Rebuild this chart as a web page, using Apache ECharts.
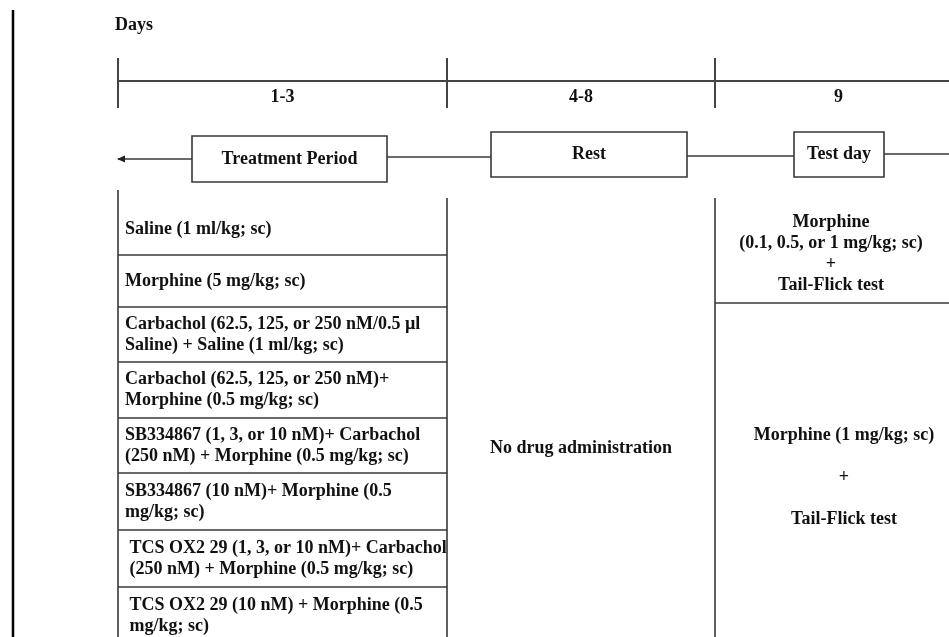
<!DOCTYPE html>
<html><head><meta charset="utf-8">
<script src="https://cdn.jsdelivr.net/npm/echarts@6/dist/echarts.min.js"></script>
<style>html,body{margin:0;padding:0;background:#fff}#main{width:949px;height:637px}</style>
</head><body><div id="main"></div>
<script>
// ---- content ----
const axisTitle = 'Days';
const dayLabels = ['1-3', '4-8', '9'];
const phaseLabels = ['Treatment Period', 'Rest', 'Test day'];
const treatmentGroups = [
  'Saline (1 ml/kg; sc)',
  'Morphine (5 mg/kg; sc)',
  'Carbachol (62.5, 125, or 250 nM/0.5 µl\nSaline) + Saline (1 ml/kg; sc)',
  'Carbachol (62.5, 125, or 250 nM)+\nMorphine (0.5 mg/kg; sc)',
  'SB334867 (1, 3, or 10 nM)+ Carbachol\n(250 nM) + Morphine (0.5 mg/kg; sc)',
  'SB334867 (10 nM)+ Morphine (0.5\nmg/kg; sc)',
  ' TCS OX2 29 (1, 3, or 10 nM)+ Carbachol\n (250 nM) + Morphine (0.5 mg/kg; sc)',
  ' TCS OX2 29 (10 nM) + Morphine (0.5\n mg/kg; sc)'
];
const restLabel = 'No drug administration';
const testDayLabels = [
  'Morphine\n(0.1, 0.5, or 1 mg/kg; sc)\n+\nTail-Flick test',
  'Morphine (1 mg/kg; sc)\n\n+\n\nTail-Flick test'
];

// ---- layout (axis units) ----
const L = {
  frameX: 13, frameTop: 10,
  colEdges: [118, 447, 715, 949],
  timelineY: 81, tickUp: 23, tickDown: 27, dayLabelY: 97,
  titleX: 115, titleY: 25,
  phaseBoxes: [[192, 136, 387, 182], [491, 132, 687, 177], [794, 132, 884, 177]],
  phaseLineY: [159, 157, 156, 154],
  tableTop: 198,
  rowEdges: [190, 255, 307, 362, 418, 473, 530, 587, 644],
  textPadX: 7,
  testSplitY: 303,
  bottom: 637,
  restTextY: 448, testTextY: [254, 477], testTextX: [831, 844]
};
const FONT = 'Liberation Serif';
const FS = 18;
const INK = '#111';
const LINE = '#383838';

function seg(api, a, b, w, c) {
  const p = api.coord(a), q = api.coord(b);
  return { type: 'line', shape: { x1: p[0], y1: p[1], x2: q[0], y2: q[1] },
    style: { stroke: c || LINE, lineWidth: w || 1.6 } };
}
function txt(api, s, at, align) {
  const p = api.coord(at);
  return { type: 'text', style: { text: s, x: p[0], y: p[1], fill: INK,
    fontFamily: FONT, fontWeight: 'bold', fontSize: FS, lineHeight: 21,
    align: align || 'center', verticalAlign: 'middle' } };
}

const chart = echarts.init(document.getElementById('main'));
chart.setOption({
  animation: false,
  grid: { left: 0, right: 0, top: 0, bottom: 0 },
  xAxis: { type: 'value', min: 0, max: 949, show: false },
  yAxis: { type: 'value', min: 0, max: 637, inverse: true, show: false },
  series: [
    { // timeline
      type: 'custom', coordinateSystem: 'cartesian2d', silent: true, clip: false,
      data: dayLabels.map((d, i) => [i]),
      renderItem(params, api) {
        const i = api.value(0), e = L.colEdges, y = L.timelineY;
        const ch = [
          seg(api, [e[i], y], [e[i + 1], y], 2, '#444'),
          seg(api, [e[i], y - L.tickUp], [e[i], y + L.tickDown], 2, '#444'),
          txt(api, dayLabels[i], [(e[i] + (i === 2 ? 962 : e[i + 1])) / 2, L.dayLabelY])
        ];
        if (i === 0) {
          ch.push(seg(api, [L.frameX, L.frameTop], [L.frameX, L.bottom], 2.5, '#000'));
          ch.push(txt(api, axisTitle, [L.titleX, L.titleY], 'left'));
        }
        return { type: 'group', children: ch };
      }
    },
    { // phases
      type: 'custom', coordinateSystem: 'cartesian2d', silent: true,
      data: phaseLabels.map((d, i) => [i]),
      renderItem(params, api) {
        const i = api.value(0), b = L.phaseBoxes[i];
        const prevX = i === 0 ? L.colEdges[0] : L.phaseBoxes[i - 1][2];
        const ch = [seg(api, [prevX, L.phaseLineY[i]], [b[0], L.phaseLineY[i]], 1.3)];
        if (i === 0) {
          const t = api.coord([prevX - 1, L.phaseLineY[0]]);
          ch.push({ type: 'polygon', shape: { points: [[t[0], t[1]], [t[0] + 8, t[1] - 3.5], [t[0] + 8, t[1] + 3.5]] },
            style: { fill: '#222' } });
        }
        if (i === phaseLabels.length - 1) {
          ch.push(seg(api, [b[2], L.phaseLineY[i + 1]], [L.colEdges[3], L.phaseLineY[i + 1]], 1.3));
        }
        const p = api.coord([b[0], b[1]]), q = api.coord([b[2], b[3]]);
        ch.push({ type: 'rect', shape: { x: p[0], y: p[1], width: q[0] - p[0], height: q[1] - p[1] },
          style: { fill: '#fff', stroke: LINE, lineWidth: 1.6 } });
        ch.push(txt(api, phaseLabels[i], [(b[0] + b[2]) / 2, (b[1] + b[3]) / 2]));
        return { type: 'group', children: ch };
      }
    },
    { // treatment groups (days 1-3)
      type: 'custom', coordinateSystem: 'cartesian2d', silent: true,
      data: treatmentGroups.map((d, i) => [i]),
      renderItem(params, api) {
        const i = api.value(0), r = L.rowEdges, e = L.colEdges;
        const top = r[i], bot = r[i + 1];
        const ch = [
          seg(api, [e[0], top], [e[0], bot]),
          seg(api, [e[1], Math.max(top, L.tableTop)], [e[1], bot])
        ];
        if (i < treatmentGroups.length - 1) ch.push(seg(api, [e[0], bot], [e[1], bot]));
        const cy = i === 0 ? (L.tableTop + bot) / 2 + 3 : (top + bot) / 2;
        ch.push(txt(api, treatmentGroups[i], [e[0] + L.textPadX, cy], 'left'));
        return { type: 'group', children: ch };
      }
    },
    { // rest (days 4-8)
      type: 'custom', coordinateSystem: 'cartesian2d', silent: true,
      data: [[0]],
      renderItem(params, api) {
        const e = L.colEdges;
        return { type: 'group', children: [
          seg(api, [e[2], L.tableTop], [e[2], L.bottom]),
          txt(api, restLabel, [(e[1] + e[2]) / 2, L.restTextY])
        ] };
      }
    },
    { // test day (day 9)
      type: 'custom', coordinateSystem: 'cartesian2d', silent: true,
      data: testDayLabels.map((d, i) => [i]),
      renderItem(params, api) {
        const i = api.value(0), e = L.colEdges;
        const ch = [txt(api, testDayLabels[i], [L.testTextX[i], L.testTextY[i]])];
        if (i === 0) ch.push(seg(api, [e[2], L.testSplitY], [e[3], L.testSplitY]));
        return { type: 'group', children: ch };
      }
    }
  ]
});
</script></body></html>
